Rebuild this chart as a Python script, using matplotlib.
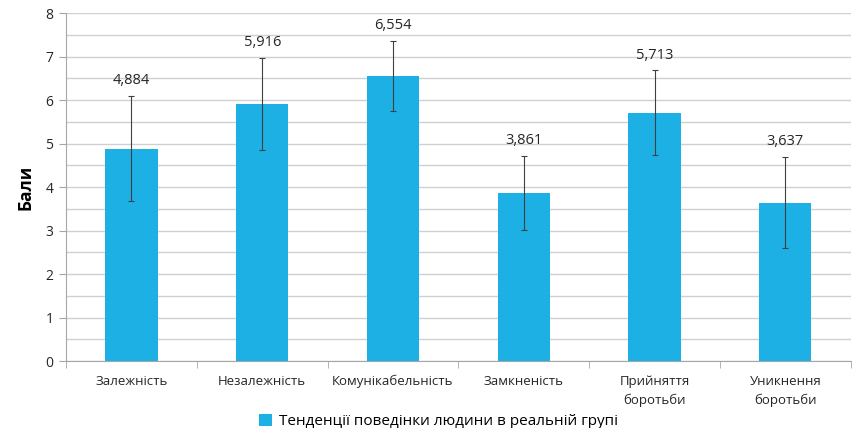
import matplotlib.pyplot as plt
import numpy as np

plt.rcParams['font.family'] = ['Open Sans', 'DejaVu Sans']

categories = ['Залежність', 'Незалежність', 'Комунікабельність', 'Замкненість',
              'Прийняття\nборотьби', 'Уникнення\nборотьби']
values = [4.884, 5.916, 6.554, 3.861, 5.713, 3.637]
errors = [1.21, 1.06, 0.80, 0.86, 0.97, 1.05]
value_labels = ['4,884', '5,916', '6,554', '3,861', '5,713', '3,637']
series_name = 'Тенденції поведінки людини в реальній групі'

bar_color = '#1CB0E4'

fig = plt.figure(figsize=(8.52, 4.28), dpi=100)
ax = fig.add_axes([0.0775, 0.1565, 0.921, 0.813])

x = np.arange(len(categories))
ax.bar(x, values, width=0.4, color=bar_color, label=series_name, zorder=3)
ax.errorbar(x, values, yerr=errors, fmt='none', ecolor='#404040',
            elinewidth=0.8, capsize=2, capthick=0.8, zorder=4)

for xi, v, e, lab in zip(x, values, errors, value_labels):
    ax.text(xi, v + e + 0.35, lab, ha='center', va='center', fontsize=10.5,
            color='#262626')

ax.set_xlim(-0.5, len(categories) - 0.5)
ax.set_ylim(0, 8)
ax.set_yticks(np.arange(0, 9, 1))
ax.set_yticks(np.arange(0, 8.5, 0.5), minor=True)
ax.yaxis.grid(True, which='both', color='#D0D0D0', linewidth=1, zorder=0)
ax.set_axisbelow(True)

ax.set_xticks(x)
ax.set_xticklabels(categories, fontsize=9.5, color='#262626', linespacing=1.6)
ax.tick_params(axis='x', length=0, pad=10)
ax.set_xticks(np.arange(-0.5, len(categories), 1), minor=True)
ax.tick_params(axis='x', which='minor', length=5, color='#A6A6A6')
ax.tick_params(axis='y', which='major', length=5, color='#A6A6A6',
               labelsize=10, labelcolor='#262626', pad=4)
ax.tick_params(axis='y', which='minor', length=0)

for s in ['top', 'right']:
    ax.spines[s].set_visible(False)
ax.spines['left'].set_color('#A6A6A6')
ax.spines['bottom'].set_color('#A6A6A6')

ax.set_ylabel('Бали', fontsize=12.5, fontweight='bold', labelpad=8)

leg = fig.legend(loc='lower center', bbox_to_anchor=(0.515, -0.035), frameon=False,
                 fontsize=11, handlelength=0.8, handleheight=0.8,
                 handletextpad=0.5)

fig.savefig('out.png', dpi=100)
